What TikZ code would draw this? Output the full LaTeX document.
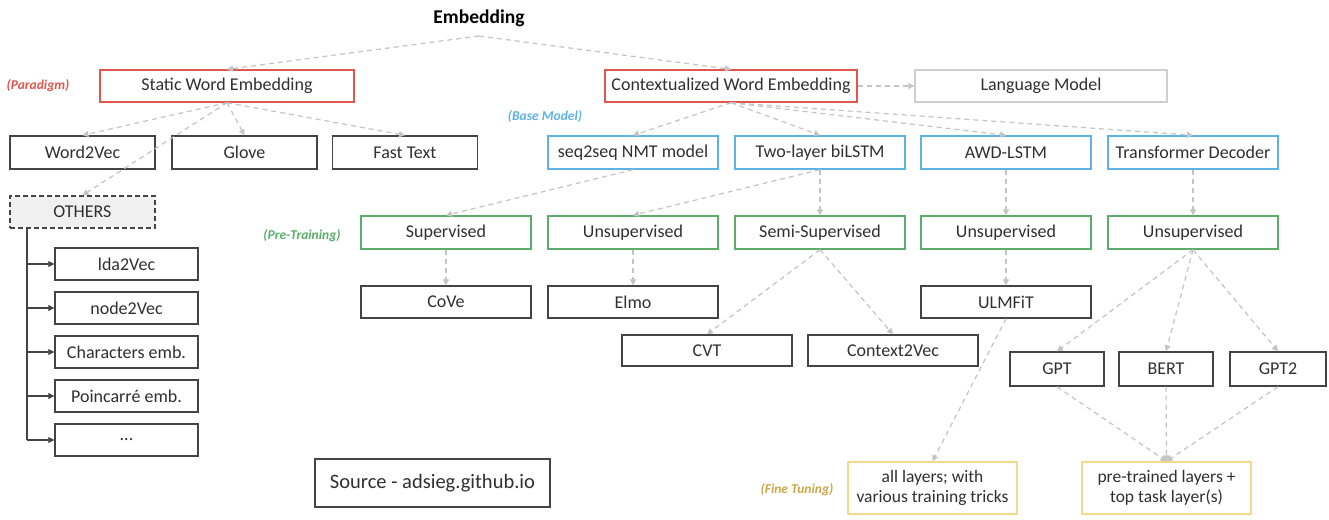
\documentclass[tikz,border=0pt]{standalone}
\usepackage{fontspec}
\setmainfont{Carlito}
\usetikzlibrary{arrows.meta}
\definecolor{txt}{HTML}{303030}
\definecolor{bxd}{HTML}{444444}
\definecolor{rd}{HTML}{E2564E}
\definecolor{bl}{HTML}{5DB3E4}
\definecolor{gr}{HTML}{5AAE6A}
\definecolor{yl}{HTML}{F3D98A}
\definecolor{gd}{HTML}{CDA84A}
\definecolor{ln}{HTML}{C4C4C4}
\definecolor{lm}{HTML}{CFCFCF}
\tikzset{
  bx/.style={draw=bxd, line width=1.4pt, inner sep=0pt, text=txt, font=\fontsize{18}{20}\selectfont, align=center},
  rbx/.style={bx, draw=rd},
  bbx/.style={bx, draw=bl},
  gbx/.style={bx, draw=gr},
  ybx/.style={bx, draw=yl},
  darr/.style={draw=ln, line width=1.2pt, dash pattern=on 5pt off 4pt, -{Triangle[width=6pt,length=6pt,fill=ln]}},
  sarr/.style={draw=bxd, line width=1.2pt, -{Triangle[width=6pt,length=6pt]}},
  lbl/.style={font=\fontsize{13.5}{15}\selectfont\bfseries\itshape, inner sep=0pt}
}
\begin{document}
\begin{tikzpicture}[x=1pt,y=-1pt]
\useasboundingbox (0,0) rectangle (1329,519);
\fill[white] (0,0) rectangle (1329,519);
% top
\node[font=\fontsize{19.5}{22}\selectfont\bfseries, text=black] (emb) at (479,18) {Embedding};
\coordinate (top) at (479,36);
% row 1
\node[rbx, minimum width=254pt, minimum height=32pt] (swe) at (227,86) {Static Word Embedding};
\node[rbx, minimum width=252pt, minimum height=32pt] (cwe) at (731,86) {Contextualized Word Embedding};
\node[bx, draw=lm, minimum width=252pt, minimum height=32pt] (lm) at (1041,86) {Language Model};
\node[lbl, text=rd] (par) at (38,86) {(Paradigm)};
\node[lbl, text=bl] (base) at (545,117) {(Base Model)};
% row 2
\node[bx, minimum width=145pt, minimum height=33pt] (w2v) at (82.5,152.5) {Word2Vec};
\node[bx, minimum width=145pt, minimum height=33pt] (glove) at (244.5,152.5) {Glove};
\node[bx, minimum width=145pt, minimum height=33pt] (ft) at (405,152.5) {Fast Text};
\node[bbx, minimum width=170pt, minimum height=33pt] (s2s) at (633,152.5) {seq2seq NMT model};
\node[bbx, minimum width=170pt, minimum height=33pt] (bil) at (820,152.5) {Two-layer biLSTM};
\node[bbx, minimum width=170pt, minimum height=33pt] (awd) at (1006,152.5) {AWD-LSTM};
\node[bbx, minimum width=170pt, minimum height=33pt] (td) at (1193,152.5) {Transformer Decoder};
% others
\node[bx, dash pattern=on 5pt off 3pt, fill=black!6, minimum width=145pt, minimum height=32pt] (oth) at (82.5,212) {OTHERS};
\node[bx, minimum width=143pt, minimum height=32pt] (l1) at (126.5,264) {lda2Vec};
\node[bx, minimum width=143pt, minimum height=32pt] (l2) at (126.5,308) {node2Vec};
\node[bx, minimum width=143pt, minimum height=32pt] (l3) at (126.5,352) {Characters emb.};
\node[bx, minimum width=143pt, minimum height=32pt] (l4) at (126.5,396) {Poincarré emb.};
\node[bx, minimum width=143pt, minimum height=32pt] (l5) at (126.5,440) {...};
\coordinate (tr0) at (27,228);
\coordinate (tr1) at (27,264);
\coordinate (tr2) at (27,308);
\coordinate (tr3) at (27,352);
\coordinate (tr4) at (27,396);
\coordinate (tr5) at (27,440);
% row 3
\node[lbl, text=gr] (pre) at (302,236) {(Pre-Training)};
\node[gbx, minimum width=170pt, minimum height=33pt] (sup) at (446,232.5) {Supervised};
\node[gbx, minimum width=170pt, minimum height=33pt] (uns1) at (633,232.5) {Unsupervised};
\node[gbx, minimum width=170pt, minimum height=33pt] (semi) at (820,232.5) {Semi-Supervised};
\node[gbx, minimum width=170pt, minimum height=33pt] (uns2) at (1006,232.5) {Unsupervised};
\node[gbx, minimum width=170pt, minimum height=33pt] (uns3) at (1193,232.5) {Unsupervised};
% row 4
\node[bx, minimum width=170pt, minimum height=32pt] (cove) at (446,302) {CoVe};
\node[bx, minimum width=170pt, minimum height=32pt] (elmo) at (633,302) {Elmo};
\node[bx, minimum width=170pt, minimum height=32pt] (ulm) at (1006,302) {ULMFiT};
% row 5
\node[bx, minimum width=170pt, minimum height=31pt] (cvt) at (707,350.5) {CVT};
\node[bx, minimum width=170pt, minimum height=31pt] (c2v) at (893,350.5) {Context2Vec};
\node[bx, minimum width=94pt, minimum height=34pt] (gpt) at (1057,369) {GPT};
\node[bx, minimum width=94pt, minimum height=34pt] (bert) at (1166,369) {BERT};
\node[bx, minimum width=96pt, minimum height=34pt] (gpt2) at (1278,369) {GPT2};
% fine tuning
\node[lbl, text=gd] (fine) at (797,490) {(Fine Tuning)};
\node[ybx, minimum width=169pt, minimum height=52pt, font=\fontsize{17.5}{20}\selectfont] (all) at (932.5,488) {all layers; with\\various training tricks};
\node[ybx, minimum width=169pt, minimum height=52pt, font=\fontsize{17.5}{20}\selectfont] (ptl) at (1166.5,488) {pre-trained layers +\\top task layer(s)};
% source
\node[bx, minimum width=235pt, minimum height=48pt, font=\fontsize{20.5}{22}\selectfont] (src) at (432.5,483) {Source - adsieg.github.io};
% connectors
\draw[darr] (top) -- (swe.north);
\draw[darr] (top) -- (cwe.north);
\draw[darr] (cwe.east) -- (lm.west);
\draw[darr] (swe.south) -- (w2v.north);
\draw[darr] (swe.south) -- (glove.north);
\draw[darr] (swe.south) -- (ft.north);
\draw[darr] (swe.south) -- (oth.north);
\draw[darr] (cwe.south) -- (s2s.north);
\draw[darr] (cwe.south) -- (bil.north);
\draw[darr] (cwe.south) -- (awd.north);
\draw[darr] (cwe.south) -- (td.north);
\draw[darr] (s2s.south) -- (sup.north);
\draw[darr] (bil.south) -- (uns1.north);
\draw[darr] (bil.south) -- (semi.north);
\draw[darr] (awd.south) -- (uns2.north);
\draw[darr] (td.south) -- (uns3.north);
\draw[darr] (sup.south) -- (cove.north);
\draw[darr] (uns1.south) -- (elmo.north);
\draw[darr] (uns2.south) -- (ulm.north);
\draw[darr] (semi.south) -- (cvt.north);
\draw[darr] (semi.south) -- (c2v.north);
\draw[darr] (uns3.south) -- (gpt.north);
\draw[darr] (uns3.south) -- (bert.north);
\draw[darr] (uns3.south) -- (gpt2.north);
\draw[darr] (ulm.south) -- (all.north);
\draw[darr] (gpt.south) -- (ptl.north);
\draw[darr] (bert.south) -- (ptl.north);
\draw[darr] (gpt2.south) -- (ptl.north);
% trunk
\draw[draw=bxd, line width=1.2pt] (tr0) -- (tr5);
\draw[sarr] (tr1) -- (l1.west);
\draw[sarr] (tr2) -- (l2.west);
\draw[sarr] (tr3) -- (l3.west);
\draw[sarr] (tr4) -- (l4.west);
\draw[sarr] (tr5) -- (l5.west);
\end{tikzpicture}
\end{document}
